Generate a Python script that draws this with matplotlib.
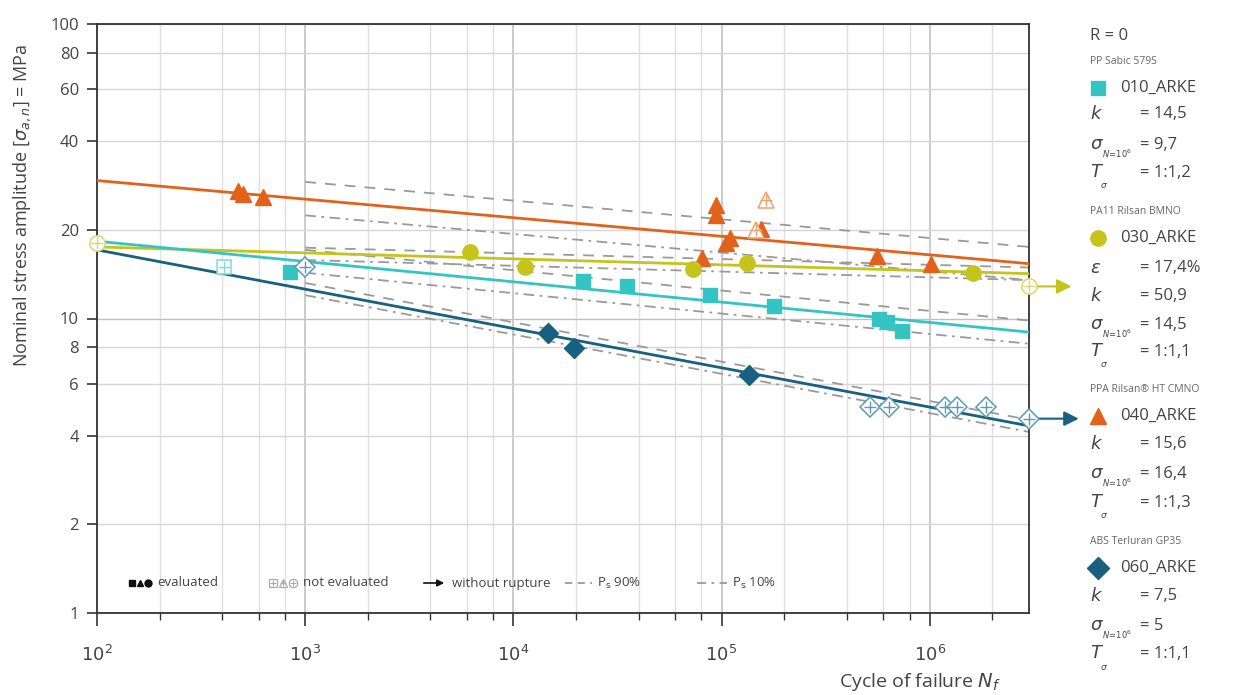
import matplotlib
matplotlib.use("Agg")
import matplotlib.pyplot as plt
from matplotlib.ticker import FixedLocator, NullFormatter, FixedFormatter
from matplotlib.lines import Line2D

plt.rcParams['font.family'] = ['Open Sans', 'DejaVu Sans']
plt.rcParams['mathtext.fontset'] = 'dejavusans'

W, H = 1239, 695

# ---------------- data ----------------
# fit lines: value at N=1e2 and at N=3e6
fit_N = [1e2, 3e6]
orange_fit = [29.4, 15.35]
yellow_fit = [17.5, 14.2]
cyan_fit = [18.3, 8.99]
dark_fit = [17.1, 4.32]

# scatter band lines (P 90% / P 10%), from N=1e3 to N=3e6
band_N = [1e3, 3e6]
orange_p90 = [29.1, 17.5]
orange_p10 = [22.4, 13.5]
yellow_p90 = [17.4, 14.9]
yellow_p10 = [15.8, 13.5]
cyan_p90 = [17.1, 9.84]
cyan_p10 = [14.3, 8.21]
dark_p90 = [13.2, 4.53]
dark_p10 = [12.0, 4.12]

# evaluated points
orange_N = [476, 503, 628, 81000, 94600, 94600, 105000, 110000, 154000, 556000, 1.02e6]
orange_S = [27.2, 26.4, 25.8, 16.1, 24.2, 22.4, 18.0, 18.8, 20.2, 16.3, 15.3]
yellow_N = [6210, 11400, 73300, 133000, 1.61e6]
yellow_S = [16.8, 14.9, 14.7, 15.4, 14.3]
cyan_N = [847, 21700, 35300, 88500, 178000, 569000, 621000, 733000]
cyan_S = [14.4, 13.4, 12.9, 12.0, 11.0, 9.93, 9.7, 9.04]
dark_N = [14700, 19600, 136000]
dark_S = [8.96, 7.96, 6.45]

# not evaluated points
orange_ne_N = [163000, 146000]
orange_ne_S = [25.2, 20.0]
yellow_ne_N = [100, 3.0e6]
yellow_ne_S = [18.0, 12.85]
cyan_ne_N = [408]
cyan_ne_S = [14.9]
dark_ne_N = [1000, 515000, 636000, 1.18e6, 1.36e6, 1.86e6, 3.0e6]
dark_ne_S = [15.0, 5.02, 5.0, 5.0, 5.0, 5.0, 4.57]

# run-outs (without rupture): start point and arrow tip
yellow_runout = [(3.0e6, 12.85), (4.8e6, 12.85)]
dark_runout = [(3.0e6, 4.57), (5.2e6, 4.57)]

y_ticks = [1, 2, 4, 6, 8, 10, 20, 40, 60, 80, 100]
x_ticks = [1e2, 1e3, 1e4, 1e5, 1e6]
x_tick_labels = ['$10^2$', '$10^3$', '$10^4$', '$10^5$', '$10^6$']
x_minor_mult = [2, 4, 6, 8]

C_OR = '#E2621B'
C_OR_L = '#F0A070'
C_YE = '#C4C41C'
C_YE_L = '#D8D870'
C_CY = '#34C4C4'
C_CY_L = '#80D8D8'
C_DK = '#17607F'
C_DK_L = '#5A9AB8'
TXT = '#444444'
GRAY = '#9A9A9A'

fig = plt.figure(figsize=(W / 100, H / 100), dpi=100)
L, R, T, B = 97, 1029, 24, 613
ax = fig.add_axes([L / W, 1 - B / H, (R - L) / W, (B - T) / H])
ax.set_xscale('log')
ax.set_yscale('log')
ax.set_xlim(1e2, 3e6)
ax.set_ylim(1, 100)

minors = [d * m for d in x_ticks for m in x_minor_mult if d * m <= 3e6]

# grid
for xv_ in minors:
    ax.axvline(xv_, color='#E0E0E0', lw=1.0, zorder=0)
for d in x_ticks:
    ax.axvline(d, color='#BDBDBD', lw=1.1, zorder=0)
for yv in y_ticks:
    ax.axhline(yv, color='#D6D6D6' if yv != 10 else '#C0C0C0', lw=1.0, zorder=0)

# band lines
for p90, p10 in [(orange_p90, orange_p10), (yellow_p90, yellow_p10),
                 (cyan_p90, cyan_p10), (dark_p90, dark_p10)]:
    ax.plot(band_N, p90, color=GRAY, lw=1.3, dashes=(6, 5), zorder=2)
    ax.plot(band_N, p10, color=GRAY, lw=1.3, dashes=(6, 3, 1.5, 3), zorder=2)

# fit lines
for fit, c in [(orange_fit, C_OR), (yellow_fit, C_YE), (cyan_fit, C_CY), (dark_fit, C_DK)]:
    ax.plot(fit_N, fit, color=c, lw=2.0, zorder=3)

# run-out arrows
for (p0, p1), c in [(yellow_runout, C_YE), (dark_runout, C_DK)]:
    ax.annotate('', xy=p1, xytext=p0, annotation_clip=False,
                arrowprops=dict(arrowstyle='-|>', color=c, lw=1.5, mutation_scale=22,
                                shrinkA=0, shrinkB=0), zorder=4)

# evaluated markers
ax.plot(orange_N, orange_S, ls='none', marker='^', ms=11, color=C_OR, zorder=5)
ax.plot(yellow_N, yellow_S, ls='none', marker='o', ms=11, color=C_YE, zorder=5)
ax.plot(cyan_N, cyan_S, ls='none', marker='s', ms=9.5, color=C_CY, zorder=5)
ax.plot(dark_N, dark_S, ls='none', marker='D', ms=10, color=C_DK, zorder=5)

# not evaluated markers
for n, s, mk, c, ms in [(orange_ne_N, orange_ne_S, '^', C_OR_L, 11),
                        (yellow_ne_N, yellow_ne_S, 'o', C_YE_L, 11),
                        (cyan_ne_N, cyan_ne_S, 's', C_CY_L, 9.5),
                        (dark_ne_N, dark_ne_S, 'D', C_DK_L, 10)]:
    ax.plot(n, s, ls='none', marker=mk, ms=ms, mfc='white', mec=c, mew=1.1, zorder=5,
            clip_on=False)
    ax.plot(n, s, ls='none', marker='+', ms=ms * 0.85, mec=c, mew=1.0, zorder=6,
            clip_on=False)

# ticks
ax.yaxis.set_major_locator(FixedLocator(y_ticks))
ax.yaxis.set_major_formatter(FixedFormatter([str(v) for v in y_ticks]))
ax.yaxis.set_minor_locator(FixedLocator([]))
ax.xaxis.set_major_locator(FixedLocator(x_ticks))
ax.xaxis.set_major_formatter(FixedFormatter(x_tick_labels))
ax.xaxis.set_minor_locator(FixedLocator(minors))
ax.xaxis.set_minor_formatter(NullFormatter())
ax.tick_params(axis='y', which='major', length=7, width=1.2, colors='#333333',
               labelcolor=TXT, labelsize=12, pad=6)
ax.tick_params(axis='x', which='major', length=9, width=1.2, colors='#333333',
               labelcolor=TXT, labelsize=13, pad=14)
ax.tick_params(axis='x', which='minor', length=5, width=1.0, colors='#333333')
for sp in ax.spines.values():
    sp.set_color('#333333')
    sp.set_linewidth(1.3)

# axis labels
fig.text(22 / W, 1 - 205 / H, r'Nominal stress amplitude [$\sigma_{a,n}$] = MPa',
         rotation=90, ha='center', va='center', fontsize=13, color=TXT)
fig.text(920 / W, 1 - 682 / H, r'Cycle of failure $N_f$', ha='center', va='center',
         fontsize=14, color=TXT)

# ------------- bottom legend (inside plot) -------------
def fx(x):
    return x / W

def fy(y):
    return 1 - y / H

ly = 583
fs_leg = 9.5
for x, mk in [(132, 's'), (140, '^'), (148, 'o')]:
    fig.add_artist(Line2D([fx(x)], [fy(ly)], marker=mk, ms=5, color='#111111', ls='none'))
fig.text(fx(157), fy(ly), 'evaluated', fontsize=fs_leg, color=TXT, va='center')
for x, mk in [(273, 's'), (283, '^'), (293, 'o')]:
    fig.add_artist(Line2D([fx(x)], [fy(ly)], marker=mk, ms=6, mfc='white', mec='#AAAAAA',
                          mew=0.9, ls='none'))
    fig.add_artist(Line2D([fx(x)], [fy(ly)], marker='+', ms=5, mec='#AAAAAA',
                          mew=0.8, ls='none'))
fig.text(fx(303), fy(ly), 'not evaluated', fontsize=fs_leg, color=TXT, va='center')
fig.add_artist(matplotlib.patches.FancyArrowPatch((fx(421), fy(ly)), (fx(447), fy(ly)),
               transform=fig.transFigure, arrowstyle='-|>', mutation_scale=10,
               color='#111111', lw=1.2))
fig.text(fx(452), fy(ly), 'without rupture', fontsize=fs_leg, color=TXT, va='center')
fig.add_artist(Line2D([fx(565), fx(592)], [fy(ly), fy(ly)], color=GRAY, lw=1.3,
                      dashes=(4, 3)))
fig.text(fx(597), fy(ly), r'P$_\mathrm{s}$ 90%', fontsize=fs_leg, color=TXT, va='center')
fig.add_artist(Line2D([fx(697), fx(727)], [fy(ly), fy(ly)], color=GRAY, lw=1.3,
                      dashes=(5, 3, 1.5, 3)))
fig.text(fx(732), fy(ly), r'P$_\mathrm{s}$ 10%', fontsize=fs_leg, color=TXT, va='center')

# ------------- right-hand legend -------------
xl = 1090
xv = 1140
fs_big = 12
fs_small = 7.5
fig.text(fx(xl), fy(36), 'R = 0', fontsize=fs_big, color=TXT, va='center')

SIG = 'sigma'
TSIG = 'tsigma'
blocks = [
    (62, 'PP Sabic 579S', 's', C_CY, '010_ARKE',
     [(r'$k$', '= 14,5', 114), (SIG, '= 9,7', 146), (TSIG, '= 1:1,2', 176)]),
    (212, 'PA11 Rilsan BMNO', 'o', C_YE, '030_ARKE',
     [(r'$\varepsilon$', '= 17,4%', 268), (r'$k$', '= 50,9', 296),
      (SIG, '= 14,5', 326), (TSIG, '= 1:1,1', 355)]),
    (390, 'PPA Rilsan® HT CMNO', '^', C_OR, '040_ARKE',
     [(r'$k$', '= 15,6', 444), (SIG, '= 16,4', 475), (TSIG, '= 1:1,3', 506)]),
    (542, 'ABS Terluran GP35', 'D', C_DK, '060_ARKE',
     [(r'$k$', '= 7,5', 596), (SIG, '= 5', 627), (TSIG, '= 1:1,1', 657)]),
]
for yt, name, mk, c, code, rows in blocks:
    fig.text(fx(xl), fy(yt), name, fontsize=fs_small, color='#666666', va='center')
    ym = yt + 26
    fig.add_artist(Line2D([fx(xl + 8)], [fy(ym)], marker=mk, ms=11 if mk != 's' else 10,
                          color=c, ls='none'))
    fig.text(fx(xl + 30), fy(ym), code, fontsize=fs_big, color=TXT, va='center')
    for sym, val, yy in rows:
        if sym == SIG:
            fig.text(fx(xl), fy(yy - 2), r'$\sigma$', fontsize=fs_big + 1, color=TXT,
                     va='center')
            fig.text(fx(xl + 12), fy(yy + 8), r'$N\!=\!10^6$', fontsize=6, color=TXT,
                     va='center')
            fig.text(fx(xv), fy(yy - 1), val, fontsize=fs_big, color=TXT, va='center')
        elif sym == TSIG:
            fig.text(fx(xl), fy(yy - 4), r'$T$', fontsize=fs_big + 1, color=TXT,
                     va='center')
            fig.text(fx(xl + 10), fy(yy + 10), r'$\sigma$', fontsize=6.5, color=TXT,
                     va='center')
            fig.text(fx(xv), fy(yy - 3), val, fontsize=fs_big, color=TXT, va='center')
        else:
            fig.text(fx(xl), fy(yy), sym, fontsize=fs_big + 1, color=TXT, va='center')
            fig.text(fx(xv), fy(yy), val, fontsize=fs_big, color=TXT, va='center')

fig.savefig('out.png', dpi=100)
